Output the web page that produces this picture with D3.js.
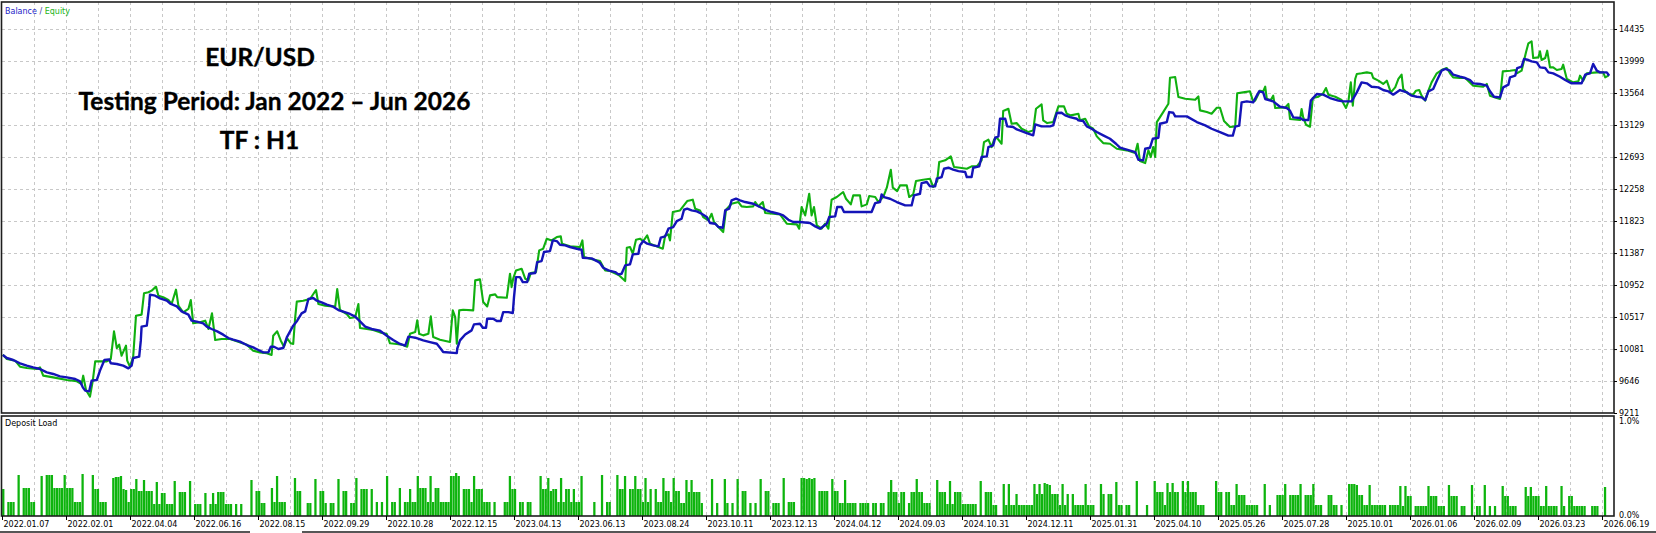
<!DOCTYPE html>
<html><head><meta charset="utf-8">
<script src="https://cdn.jsdelivr.net/npm/d3@7"></script>
<style>
html,body{margin:0;padding:0;background:#fff;}
svg{display:block;}
</style></head>
<body>
<svg id="chart" width="1656" height="533"></svg>
<script>
// ---------------- DATA ----------------
const titleLines = ["EUR/USD", "Testing Period: Jan 2022 \u2013 Jun 2026", "TF : H1"];
const yTickValues = [14435, 13999, 13564, 13129, 12693, 12258, 11823, 11387, 10952, 10517, 10081, 9646, 9211];
const loadTickValues = [100, 0]; // hundredths of a percent
const dateLabels = ["2022.01.07","2022.02.01","2022.04.04","2022.06.16","2022.08.15","2022.09.29","2022.10.28","2022.12.15","2023.04.13","2023.06.13","2023.08.24","2023.10.11","2023.12.13","2024.04.12","2024.09.03","2024.10.31","2024.12.11","2025.01.31","2025.04.10","2025.05.26","2025.07.28","2025.10.01","2026.01.06","2026.02.09","2026.03.23","2026.06.19"];

// [progress, balance]
const balance = [[0.2,10000],[1.2,9959],[2.8,9932],[4.5,9887],[6.2,9855],[7.8,9832],[9.5,9810],[11.2,9764],[12.8,9742],[14.5,9710],[16.2,9696],[18.3,9674],[19.5,9642],[20.2,9560],[20.8,9515],[21.8,9506],[22.4,9651],[23.7,9660],[24.5,9787],[25.6,9932],[26.8,9941],[27.2,9887],[28.7,9878],[30.3,9855],[31.6,9819],[32.4,9855],[32.8,9959],[34.3,9977],[34.7,10195],[34.9,10386],[36.2,10399],[36.8,10671],[37,10821],[38.3,10807],[39.5,10771],[41.2,10739],[42.2,10694],[43.7,10662],[44.9,10594],[46.6,10549],[47.4,10467],[48.7,10454],[50.3,10431],[51.2,10386],[52.4,10354],[53.8,10322],[55.3,10277],[56.6,10231],[57.8,10209],[59.5,10181],[61.2,10136],[62.8,10104],[64.1,10068],[65.3,10036],[66.6,10036],[67.2,10113],[68,10113],[69.1,10082],[70.3,10095],[71.2,10240],[72.8,10399],[73.8,10467],[74.9,10567],[75.8,10594],[76.6,10762],[77.8,10776],[78.7,10739],[79.9,10717],[81.2,10685],[82.8,10658],[84.1,10612],[85.3,10590],[87,10558],[88.3,10522],[89.5,10458],[90.8,10386],[92.4,10354],[94.5,10331],[96.2,10263],[97.8,10204],[99.5,10150],[100.8,10127],[101.6,10250],[102.8,10240],
[103.3,10235],[105.3,10199],[107,10176],[108.7,10153],[109.7,10085],[110.3,10040],[113.7,10026],[113.8,10085],[114.5,10199],[115.8,10280],[117.4,10335],[118,10416],[119.5,10425],[120.2,10371],[121,10371],[121.3,10494],[122.8,10494],[123.7,10462],[124.7,10462],[125.3,10584],[126.6,10584],[127.7,10571],[128,10788],[128.5,11060],[129.5,11060],[130.2,10992],[131.3,10992],[131.8,11106],[133.3,11115],[133.8,11264],[134.9,11278],[135.5,11401],[137,11414],[137.7,11559],[138.7,11550],[139.5,11500],[140.8,11491],[142,11469],[143.7,11446],[144.9,11432],[145.2,11323],[147.4,11314],[148.7,11278],[149.5,11251],[150.3,11187],[151.6,11151],[153.3,11128],[154.1,11097],[154.9,11106],[155.8,11219],[157,11233],[157.7,11369],[159.1,11378],[159.5,11491],[160.3,11550],[161.3,11514],[162.8,11491],[164.1,11478],[164.7,11596],[165.8,11614],[166.6,11718],[167.8,11741],[168.7,11822],[169.9,11854],[170.5,11976],[171.3,11990],[172.4,11967],[173.7,11954],[174.9,11922],[176.2,11877],[177,11795],[178.3,11786],[179.1,11741],[180.2,11732],[180.8,11967],[181.8,11990],[182.4,12103],[183.5,12126],[184.5,12103],[185.8,12081],[187.8,12058],[189.5,12013],[191.2,11967],[192.4,11945],[194.1,11922],[195.3,11899],[196.6,11840],[197.8,11809],[199.5,11809],[202,11795],[203.3,11750],
[204.5,11718],[206.2,11786],[206.8,11877],[208.3,11886],[208.8,12013],[209.9,12013],[210.5,11945],[217.4,11945],[218.3,12067],[219.5,12081],[219.9,12185],[220.5,12149],[222,12126],[223.7,12081],[225.8,12035],[227.4,12035],[228,12171],[229.5,12194],[229.9,12339],[231.2,12353],[232,12294],[233.3,12294],[233.7,12398],[234.9,12421],[235.5,12534],[236.6,12548],[237.8,12521],[239.1,12502],[240.8,12489],[241.2,12421],[242.4,12421],[242.8,12548],[244.3,12566],[244.9,12693],[246.2,12702],[246.6,12829],[247.8,12852],[248.3,12956],[249.1,12974],[249.5,13214],[250.8,13214],[251.3,13110],[252.8,13101],[253.7,13069],[254.9,13047],[256.2,13019],[257.8,12988],[258.3,13137],[259.9,13110],[262,13110],[262.8,13124],[263.7,13292],[264.9,13296],[265.8,13260],[267,13237],[268.7,13214],[269.1,13192],[270.3,13183],[271.2,13110],[272.4,13078],[273.7,13033],[275.3,12988],[277,12942],[278.5,12874],[279.5,12820],[281.2,12793],[283.3,12761],[284.1,12657],[285.3,12648],[285.8,12806],[287,12820],[287.7,12942],[289.1,12956],[289.5,13146],[291.2,13169],[291.8,13305],[292.8,13296],[293.3,13246],[296.2,13246],[298.7,13169],[300.8,13124],[302.4,13078],[304.5,13033],
[306.6,12984],[307.7,12984],[308.3,13106],[309.3,13120],[309.9,13437],[311.2,13451],[312.8,13437],[313.7,13528],[314.3,13587],[315.3,13573],[315.8,13483],[317.8,13451],[319.5,13378],[321.2,13360],[322,13324],[322.8,13233],[324.5,13224],[325.3,13197],[326.6,13197],[327.2,13460],[328.7,13551],[330.3,13542],[332,13496],[334.1,13460],[335.3,13451],[337.4,13451],[338.7,13573],[339.9,13709],[341.2,13696],[342.4,13650],[344.1,13641],[345.3,13605],[346.6,13587],[347.8,13542],[349.5,13605],[351.2,13573],[352.4,13528],[353.7,13514],[354.9,13505],[355.8,13469],[356.6,13587],[357.8,13619],[358.7,13732],[359.9,13868],[360.8,13891],[362,13868],[362.8,13814],[364.5,13786],[365.8,13768],[367,13741],[367.8,13696],[369.5,13687],[371.2,13664],[372,13587],[373,13514],[374.5,13505],[375.3,13641],[376.6,13678],[377,13777],[378.3,13800],[378.8,13904],[379.9,13923],[380.5,14027],[381.6,14013],[382.4,13995],[383.7,13981],[384.5,13913],[385.8,13904],[386.6,13845],[387.8,13832],[389.5,13786],[390.8,13741],[392.4,13696],[394.9,13696],[395.8,13814],[397,13832],[397.8,13959],[398.7,13868],[399.5,13845],[401.2,13845],[401.8,13800]];

// [progress, equity]
const equity = [[0.2,10005],[1.2,9946],[3.3,9923],[4.5,9841],[6.2,9823],[8.7,9810],[9.5,9832],[10.3,9719],[12.8,9696],[16.2,9660],[18.7,9642],[19.9,9606],[20.3,9719],[21,9524],[22,9433],[22.7,9651],[23.3,9914],[24.9,9914],[26.2,9914],[27.2,9946],[28,10322],[28.7,10095],[29.3,10141],[29.9,9991],[31,10127],[31.3,9923],[32,9841],[32.8,9977],[33.5,10535],[34.9,10549],[35.5,10839],[36.6,10853],[37.4,10875],[38.5,10930],[39.1,10807],[40.3,10785],[41.6,10748],[42.4,10694],[43.5,10889],[44.1,10671],[45.3,10581],[46.6,10626],[47.2,10748],[47.8,10431],[49.5,10445],[50.8,10467],[51.6,10354],[52.5,10567],[53.3,10204],[54.9,10218],[57,10218],[58.7,10186],[61.2,10141],[62.8,10059],[64.5,10036],[66.2,10023],[67.4,10000],[67.8,10263],[68.8,10322],[69.7,10195],[70.5,10113],[71.3,10227],[72.2,10159],[72.8,10150],[73.3,10513],[73.7,10726],[75.3,10739],[77,10762],[78.5,10884],[79.1,10694],[80.8,10671],[83.3,10658],[83.8,10898],[84.5,10612],[86.2,10558],[87,10503],[88.3,10513],[89.1,10694],[89.5,10367],[91.2,10354],[92.8,10340],[94.5,10308],[96.2,10286],[97,10159],[98.7,10150],[99.9,10141],[101.3,10113],
[102,10289],[103.3,10312],[103.8,10471],[104.3,10289],[105.3,10267],[106.6,10289],[107.2,10525],[107.8,10244],[109.5,10208],[112,10176],[112.7,10607],[113.3,10516],[113.7,10153],[114.3,10607],[115.3,10616],[117.8,10607],[118.3,11015],[119.5,11029],[120.3,10720],[121.3,10661],[122,10811],[123.3,10825],[123.8,10788],[126.2,10779],[127,11106],[127.4,10924],[127.8,11038],[128.5,11151],[129.9,11174],[130.8,11038],[131.6,11015],[132.2,11115],[133.5,11128],[134.3,11423],[135.3,11446],[136.2,11582],[137.4,11559],[138.7,11605],[139.7,11614],[140,11514],[142,11478],[144.5,11469],[145.1,11559],[145.5,11332],[147,11310],[149.5,11278],[150.8,11151],[152,11142],[154.3,11083],[155.8,11006],[156.2,11459],[157,11469],[157.7,11378],[158.5,11568],[159.5,11582],[160.3,11550],[161.3,11627],[162,11514],[164.1,11469],[165.2,11446],[165.8,11627],[166.6,11641],[167,11559],[167.7,11945],[169.5,11967],[171.3,12094],[172.7,12113],[173.3,11990],[174.5,11967],[175.3,11877],[176.6,11831],[177.4,11922],[178,11809],[179.1,11741],[180.3,11673],[181,11976],[182.4,12058],[184.1,12081],[184.9,12022],[186.2,12013],[187.8,12022],[188.3,12081],[189.1,12022],[190.2,12081],[190.8,11931],[192.8,11922],[194.5,11913],[196.2,11786],[198.7,11777],[199.3,11718],[199.9,12013],[200.8,11899],[201.8,12194],[202.4,11899],[203,12013],[203.7,11763],[204.9,11718],[205.8,11786],
[206.6,11718],[207.4,12112],[208.7,12149],[210.3,12217],[211,12126],[212.2,12049],[212.8,12171],[214.5,12171],[214.9,12022],[216.2,12049],[216.8,12162],[218.3,12149],[219.1,12081],[220.3,12149],[221.2,12276],[222.2,12521],[222.7,12276],[223.8,12230],[224.5,12307],[226.2,12307],[226.8,12149],[227.8,12185],[228.5,12366],[230.3,12385],[232,12398],[232.8,12285],[233.8,12366],[234.3,12625],[235.8,12648],[237.2,12702],[238,12557],[239.5,12548],[241.2,12534],[242.4,12566],[243.7,12566],[244.9,12648],[245.5,12897],[246.6,12929],[247.4,12829],[248,12929],[248.7,12956],[249.9,12874],[250.3,13319],[251.6,13350],[252.4,13146],[253.7,13155],[254.9,13078],[255.8,13056],[256.6,13033],[257.8,13056],[258.5,13350],[259.9,13409],[260.3,13192],[261.3,13155],[262.8,13169],[264.1,13382],[265.5,13382],[266.2,13282],[267.2,13260],[269.1,13282],[269.5,13192],[270.8,13214],[271.8,13110],[272.8,13078],[273.7,12974],[275.3,12883],[277,12874],[278.7,12806],[281.2,12784],[283.3,12747],[283.9,12874],[284.5,12638],[285.8,12611],[286.6,12784],[287.2,12693],[287.8,12829],[288.3,12693],[288.7,13169],[290.3,13305],[291.6,13419],[292,13772],[293.3,13781],[294.1,13509],[295.8,13487],[298.3,13473],[299.1,13518],[299.5,13328],[301.2,13305],[302.4,13282],[303.7,13364],[304.5,13364],[305.5,13183],[307,13101],[308.3,13110],
[308.8,13560],[310.3,13573],[312,13587],[312.7,13460],[313.3,13460],[314.5,13596],[315.3,13587],[315.8,13650],[316.2,13483],[317.2,13469],[317.8,13528],[318.3,13360],[320.8,13369],[321.6,13415],[322,13211],[324.5,13197],[324.9,13347],[325.3,13233],[326,13133],[327,13106],[327.7,13496],[329.1,13514],[330.3,13560],[331,13632],[331.6,13542],[333.3,13514],[334.9,13469],[336,13360],[336.6,13451],[337.2,13709],[337.7,13392],[338.3,13755],[338.7,13823],[339.9,13832],[341.2,13845],[342.4,13832],[342.8,13768],[344.1,13732],[345.3,13687],[346.2,13732],[347.2,13573],[348.3,13641],[349.1,13755],[349.9,13814],[350.3,13619],[351.6,13551],[352.8,13542],[353.5,13596],[354.3,13605],[354.9,13528],[355.8,13460],[356.6,13596],[357.4,13709],[358.7,13832],[359.9,13877],[361.2,13904],[362,13832],[362.8,13777],[364.5,13768],[365.8,13768],[367.8,13664],[370.3,13650],[371.2,13687],[372,13528],[373.7,13496],[374.5,13483],[375.2,13859],[377,13868],[378.3,13877],[378.7,13832],[379.9,13868],[381,14118],[381.6,14240],[382.4,14267],[382.8,14040],[384.1,14049],[384.5,14131],[384.9,14013],[385.8,14040],[386.3,14140],[387,13913],[387.8,13913],[388.7,13877],[389.9,13891],[390.3,13950],[391.2,13755],[392.8,13709],[394.1,13723],[394.5,13800],[395.3,13732],[396.2,13832],[398.7,13845],[400.3,13845],[400.8,13777],[401.6,13800]];

// [deal slot, deposit load in hundredths of a percent]
const depositLoad = [[0,27],[2,14],[3,14],[4,14],[6,41],[8,28],[9,28],[10,28],[11,14],[12,14],[15,40],[17,41],[18,41],[19,41],[20,28],[21,28],[22,28],[23,28],[24,41],[25,28],[26,28],[27,28],[28,14],[29,14],[30,14],[31,42],[35,41],[36,27],[37,27],[38,14],[39,14],[40,14],[43,38],[44,39],[45,39],[46,40],[47,27],[48,26],[49,14],[50,27],[51,27],[52,37],[53,25],[54,25],[55,36],[56,25],[57,25],[58,25],[59,12],[60,34],[61,12],[62,23],[63,23],[64,12],[65,12],[66,12],[67,35],[69,24],[70,24],[71,24],[73,35],[75,12],[76,12],[77,12],[79,23],[81,12],[82,23],[83,12],[84,24],[85,24],[86,24],[87,12],[88,12],[89,12],[91,12],[93,12],[97,36],[99,25],[100,25],[101,13],[102,13],
[105,28],[106,14],[107,40],[108,14],[109,14],[110,14],[114,38],[115,25],[116,25],[119,13],[120,13],[122,37],[124,25],[125,25],[126,13],[128,13],[129,13],[131,37],[133,25],[134,25],[136,13],[137,13],[138,38],[140,27],[141,27],[142,27],[144,27],[146,14],[148,14],[150,40],[152,14],[153,14],[155,28],[157,14],[158,14],[159,27],[160,14],[161,14],[162,40],[163,28],[164,28],[165,28],[166,14],[167,40],[168,14],[169,28],[170,28],[171,14],[172,14],[173,14],[174,14],[175,40],[176,40],[177,43],[178,40],[180,27],[181,27],[182,27],[183,14],[184,40],[185,27],[186,27],[187,27],[188,14],[189,14],[190,14],[192,14],[196,14],[197,14],[198,40],[199,27],[200,27],[202,14],[203,14],[205,14],[206,14],[210,40],[211,27],[212,27],[213,38],[214,25],[215,27],[216,27],[217,14],[218,38],[219,14],[220,27],[221,27],[222,14],[223,27],[224,14],[225,14],[226,40],[231,14],[234,41],[236,14],[237,14],[240,41],[241,27],[242,27],[243,40],[245,27],[246,27],[247,40],[248,27],[249,27],[250,14],[251,38],[252,14],[253,27],[255,27],[256,14],[257,14],[258,38],[259,25],[260,25],[261,14],[262,38],[263,25],[264,25],[265,13],[266,13],[267,36],[268,24],[269,36],[270,24],[271,24],[272,24],[273,13],[277,37],[279,13],[282,37],[283,13],[285,13],[287,37],[289,25],[290,25],[292,13],[294,13],[296,37],[298,25],[299,25],[301,13],[302,13],[303,13],[305,38],[307,14],[308,14],[309,14],[312,38],[313,38],[314,37],[315,38],[316,37],[317,38],[319,25],[320,25],[321,25],[322,25],[324,37],[325,25],[326,25],[327,13],[328,13],[329,36],[330,13],[331,13],[332,13],[333,13],[335,13],[336,13],[337,13],[338,13],[340,13],[341,13],[343,13],[344,13],[346,24],[347,36],[348,24],[349,24],[350,13],[351,24],[352,24],[354,13],[355,24],[356,24],[357,37],[358,24],[359,24],[360,13],[361,13],[362,13],[365,36],[366,24],[367,24],[368,24],[369,12],
[370,35],[371,12],[372,24],[373,24],[374,24],[375,12],[376,12],[377,12],[378,12],[379,12],[380,12],[382,35],[384,24],[385,24],[386,24],[387,11],[388,11],[391,32],[392,11],[393,32],[394,11],[395,11],[396,22],[397,11],[398,11],[399,11],[400,11],[401,11],[402,11],[403,32],[404,22],[405,32],[406,22],[407,33],[408,32],[409,31],[410,22],[411,22],[412,22],[413,11],[414,32],[415,11],[416,22],[418,22],[419,11],[420,11],[421,11],[422,11],[423,32],[424,11],[425,11],[426,11],[429,32],[430,22],[432,22],[433,22],[435,34],[436,11],[437,11],[439,11],[440,11],[443,35],[447,11],[450,35],[451,24],[452,24],[453,24],[454,11],[455,33],[456,24],[457,33],[458,24],[459,24],[461,35],[462,24],[463,35],[464,24],[465,24],[466,24],[467,11],[468,11],[469,11],[474,35],[475,24],[476,24],[478,24],[479,24],[480,11],[481,11],[482,32],[483,21],[484,21],[485,21],[486,11],[487,11],[488,11],[489,11],[490,11],[493,32],[495,11],[498,21],[499,21],[500,21],[501,32],[503,21],[504,21],[505,21],[506,21],[507,32],[509,21],[510,21],[511,21],[512,32],[513,11],[514,11],[515,11],[518,21],[519,21],[520,11],[521,11],[523,11],[526,32],[527,32],[528,32],[529,31],[530,21],[531,21],[532,11],[533,11],[534,31],[535,11],[536,11],[537,11],[538,11],[539,11],[540,11],[542,11],[543,11],[544,11],[545,11],
[546,30],[547,10],[548,30],[549,20],[550,20],[552,10],[553,10],[554,10],[555,10],[556,10],[557,30],[558,20],[559,20],[560,20],[561,10],[562,10],[563,10],[565,31],[566,20],[567,20],[568,20],[570,10],[571,10],[574,31],[576,10],[577,10],[579,31],[581,10],[583,10],[586,30],[587,20],[588,20],[589,10],[590,10],[591,10],[595,29],[596,20],[597,29],[598,20],[599,20],[600,20],[601,10],[602,10],[603,30],[604,10],[605,10],[606,10],[607,10],[609,30],[610,10],[612,20],[613,20],[614,10],[615,10],[616,10],[617,10],[618,10],[621,10],[622,10],[623,10],[626,29]];

// ---------------- LAYOUT ----------------
const svg = d3.select("#chart");
const L = 2, R = 1614, T = 2, B1 = 413, T2 = 416, B2 = 516;
const axisFont = "'DejaVu Sans', Verdana, sans-serif";

const xLine = d3.scaleLinear().domain([0, 403]).range([L, R]);
const xBar = d3.scaleLinear().domain([0, 630]).range([L, R]);
const yMain = d3.scaleLinear().domain([9211, 14435]).range([B1, 29]);
const yLoad = d3.scaleLinear().domain([0, 100]).range([B2, T2]);

svg.append("rect").attr("width", 1656).attr("height", 533).attr("fill", "#fff");

// grid
const gridStyle = g => g.attr("stroke", "#c8c8c8").attr("stroke-width", 1).attr("stroke-dasharray", "3,3").attr("shape-rendering", "crispEdges");
const vGrid = d3.range(8, 401, 8);
const grid = svg.append("g").call(gridStyle);
grid.selectAll("line.v1").data(vGrid).join("line").attr("class", "v1")
  .attr("x1", d => Math.round(xLine(d)) + 0.5).attr("x2", d => Math.round(xLine(d)) + 0.5)
  .attr("y1", T).attr("y2", B1);
grid.selectAll("line.v2").data(vGrid).join("line").attr("class", "v2")
  .attr("x1", d => Math.round(xLine(d)) + 0.5).attr("x2", d => Math.round(xLine(d)) + 0.5)
  .attr("y1", T2).attr("y2", B2);
grid.selectAll("line.h").data(yTickValues.slice(0, -1)).join("line").attr("class", "h")
  .attr("x1", L).attr("x2", R)
  .attr("y1", d => Math.round(yMain(d)) + 0.5).attr("y2", d => Math.round(yMain(d)) + 0.5);

// clip for lines
svg.append("clipPath").attr("id", "clipMain").append("rect")
  .attr("x", L).attr("y", T).attr("width", R - L).attr("height", B1 - T);

const line = d3.line().x(d => xLine(d[0])).y(d => yMain(d[1]));
const lines = svg.append("g").attr("clip-path", "url(#clipMain)");
lines.append("path").datum(equity).attr("d", line)
  .attr("fill", "none").attr("stroke", "#10b010").attr("stroke-width", 2.1).attr("stroke-linejoin", "round");
lines.append("path").datum(balance).attr("d", line)
  .attr("fill", "none").attr("stroke", "#1414b8").attr("stroke-width", 2.4).attr("stroke-linejoin", "round");

// deposit load bars
const bw = xBar(1) - xBar(0);
svg.append("g").selectAll("rect").data(depositLoad).join("rect")
  .attr("x", d => xBar(d[0]) + 0.15)
  .attr("width", bw - 0.3)
  .attr("y", d => yLoad(d[1]))
  .attr("height", d => yLoad(0) - yLoad(d[1]))
  .attr("fill", "#0db40d");

// frames
const frame = svg.append("g").attr("stroke", "#1e1e1e").attr("stroke-width", 1.6).attr("fill", "none");
frame.append("rect").attr("x", 1.5).attr("y", 2).attr("width", R - 1.5).attr("height", B1 - 2);
frame.append("rect").attr("x", 1.5).attr("y", T2).attr("width", R - 1.5).attr("height", B2 - T2);
frame.append("line").attr("x1", 0).attr("x2", 250).attr("y1", 532).attr("y2", 532);
frame.append("line").attr("x1", 302).attr("x2", 1656).attr("y1", 532).attr("y2", 532);

// y axis (main)
const yAxis = d3.axisRight(yMain).tickValues(yTickValues).tickSize(3).tickPadding(2).tickFormat(d3.format("d"));
const gy = svg.append("g").attr("transform", `translate(${R},0)`).call(yAxis);
gy.select(".domain").remove();
gy.selectAll("text").attr("font-family", axisFont).attr("font-size", 8).attr("fill", "#000");
gy.selectAll("line").attr("stroke", "#000");

// y axis (deposit load)
const yAxis2 = d3.axisRight(yLoad).tickValues(loadTickValues).tickSize(0).tickPadding(5)
  .tickFormat(d => (d / 100).toFixed(1) + "%");
const gy2 = svg.append("g").attr("transform", `translate(${R},0)`).call(yAxis2);
gy2.select(".domain").remove();
gy2.selectAll("text").attr("font-family", axisFont).attr("font-size", 8).attr("fill", "#000")
  .attr("dy", d => d === 100 ? "0.95em" : "0.2em");

// x axis
const xTicks = d3.range(0, 401, 16);
const xAxis = d3.axisBottom(xLine).tickValues(xTicks).tickSize(4).tickFormat((d, i) => dateLabels[i]);
const gx = svg.append("g").attr("transform", `translate(0,${B2})`).call(xAxis);
gx.select(".domain").remove();
gx.selectAll("line").attr("stroke", "#000");
gx.selectAll("text").attr("font-family", axisFont).attr("font-size", 8).attr("fill", "#000")
  .attr("text-anchor", "start").attr("x", 1).attr("y", 11).attr("dy", 0);

// legends
const leg = svg.append("text").attr("x", 5).attr("y", 14).attr("font-family", axisFont).attr("font-size", 8);
leg.append("tspan").attr("fill", "#1c1cc8").text("Balance");
leg.append("tspan").attr("fill", "#3a3a9a").text(" / ");
leg.append("tspan").attr("fill", "#1cb41c").text("Equity");
svg.append("text").attr("x", 5).attr("y", 426).attr("font-family", axisFont).attr("font-size", 8)
  .attr("fill", "#000").text("Deposit Load");

// titles
const titlePos = [[260, 65.5], [274.5, 110], [259.5, 149]];
svg.append("g").selectAll("text").data(titleLines).join("text")
  .attr("x", (d, i) => titlePos[i][0]).attr("y", (d, i) => titlePos[i][1])
  .attr("text-anchor", "middle").attr("font-family", "Lato, 'Open Sans', sans-serif")
  .attr("font-weight", "bold").attr("font-size", 24.5).attr("fill", "#000")
  .attr("stroke", "#000").attr("stroke-width", 0.35).text(d => d);
</script>
</body></html>
